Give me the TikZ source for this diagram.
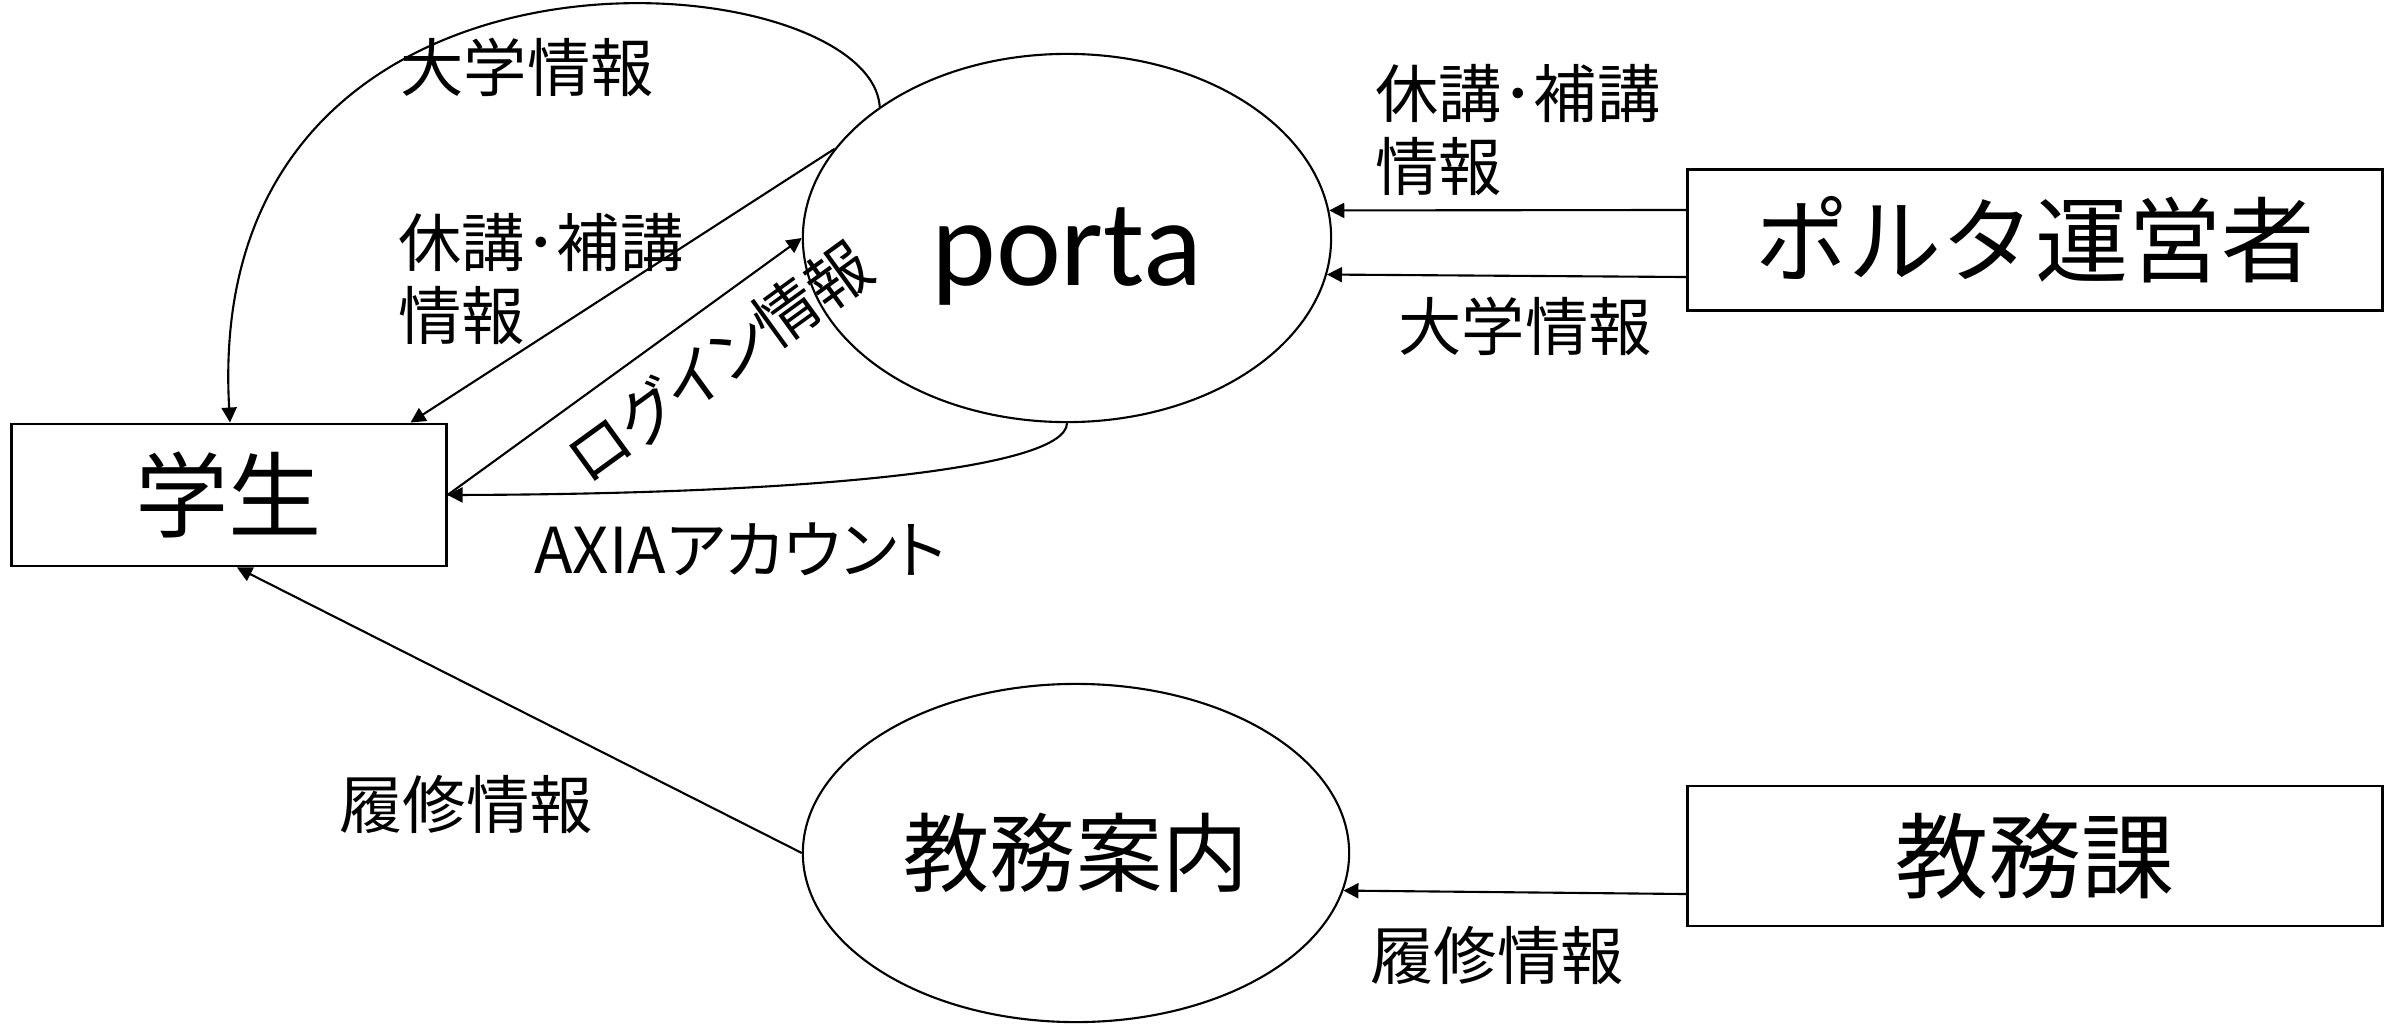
\documentclass[tikz,border=0pt]{standalone}
\usepackage{fontspec}
\setmainfont{Noto Sans CJK JP}
\newfontfamily\latinfont{Carlito}
\newfontfamily\propfont[RawFeature=+palt]{Noto Sans CJK JP}
\usetikzlibrary{arrows.meta,shapes.geometric}
\begin{document}
\begin{tikzpicture}[x=0.01cm,y=-0.01cm,
  arr/.style={draw, line width=0.6pt, -{Triangle[length=0.15cm,width=0.15cm]}},
  ent/.style={draw, line width=0.8pt, rectangle, inner sep=0pt, font=\fontsize{26.5}{30}\selectfont},
  proc/.style={draw, line width=0.6pt, ellipse, inner sep=0pt},
  lab/.style={inner sep=0pt, font=\fontsize{18}{20.5}\selectfont, align=left}]
\useasboundingbox[fill=white] (0,0) rectangle (2399,1024);

% nodes
\node[ent, minimum width=4.34cm, minimum height=1.42cm] (student) at (229,495) {学生};
\node[proc, minimum width=5.28cm, minimum height=3.68cm,
      font=\latinfont\fontsize{35}{40}\selectfont, text height=1.24cm, text depth=0.3cm] (porta) at (1067,238) {porta};
\node[ent, minimum width=6.94cm, minimum height=1.41cm] (op) at (2035,240) {ポルタ運営者};
\node[proc, minimum width=5.46cm, minimum height=3.38cm,
      font=\fontsize{24.5}{28}\selectfont] (kyomu) at (1076,853) {教務案内};
\node[ent, minimum width=6.94cm, minimum height=1.40cm] (kyomuka) at (2035,856) {教務課};

% connectors
\draw[arr] (porta.145) .. controls (870,-40) and (200,-100) .. ([xshift=0.01cm]student.north);
\draw[arr] (porta.159) -- ([xshift=-0.37cm]student.north east);
\draw[arr] (student.east) -- (porta.west)
  node[sloped, below=6pt, pos=0.68, inner sep=0pt, font=\propfont\fontsize{18}{20.5}\selectfont] (l3) {ログイン情報};
\draw[arr] (porta.south) .. controls (1066,470) and (800,494) .. (student.east);
\draw[arr] ([yshift=0.30cm]op.west) -- (porta.6);
\draw[arr] ([yshift=-0.37cm]op.west) -- (porta.-8.5);
\draw[arr] (kyomu.west) -- ([xshift=0.08cm]student.south);
\draw[arr] ([yshift=-0.38cm]kyomuka.west) -- (kyomu.-8.8);

% labels
\node[lab] (l1) at (527,67) {大学情報};
\node[lab] (l2) at (541,279) {休講･補講\\情報};
\node[lab, font=\propfont\fontsize{18}{20.5}\selectfont] (l4) at (740,549) {AXIAアカウント};
\node[lab] (l5) at (1518,130) {休講･補講\\情報};
\node[lab] (l6) at (1525,326) {大学情報};
\node[lab] (l7) at (466,804) {履修情報};
\node[lab] (l8) at (1497,955) {履修情報};
\end{tikzpicture}
\end{document}
